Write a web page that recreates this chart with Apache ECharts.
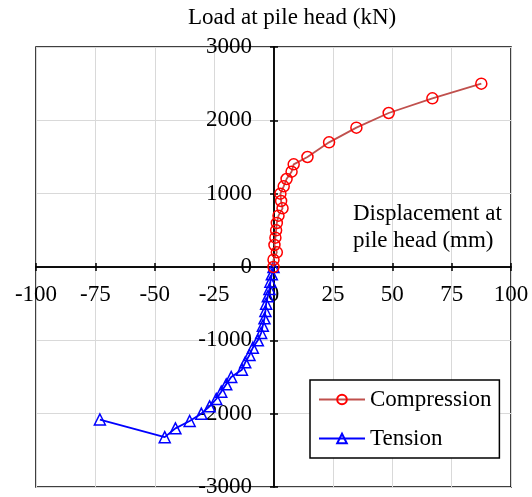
<!DOCTYPE html>
<html>
<head>
<meta charset="utf-8">
<script src="https://cdn.jsdelivr.net/npm/echarts@6/dist/echarts.min.js"></script>
<style>
  html, body { margin: 0; padding: 0; background: #fff; }
  #chart { width: 532px; height: 497px; }
</style>
</head>
<body>
<div id="chart"></div>
<script>
// Pile head load test: displacement (mm) vs load (kN)
const compDisp = [0, 0, 1.4, 0.4, 0.8, 1.1, 1.4, 2.1, 3.8, 3.2, 2.9, 4.3, 5.5, 7.6, 8.5, 14.3, 23.4, 34.9, 48.5, 66.9, 87.5];
const compLoad = [0, 100, 200, 300, 400, 500, 600, 700, 800, 900, 1000, 1100, 1200, 1300, 1400, 1500, 1700, 1900, 2100, 2300, 2500];

const tenDisp = [0, -0.7, -1.3, -1.7, -2.4, -3.1, -3.4, -3.8, -4.5, -5.2, -6.6, -8.7, -10.1, -11.9, -13.3, -17.8, -19.9, -22.0, -24.1, -26.9, -30.4, -35.3, -41.3, -45.8, -73.1];
const tenLoad = [0, -100, -200, -300, -400, -500, -600, -700, -800, -900, -1000, -1100, -1200, -1300, -1400, -1500, -1600, -1700, -1800, -1900, -2000, -2100, -2200, -2320, -2080];

const seriesNames = ['Compression', 'Tension'];
const xTitle = 'Displacement at\npile head (mm)';
const yTitle = 'Load at pile head (kN)';

const FONT = '"Liberation Serif", serif';

// Plot box (px) — the axes cross at the origin, in the middle of the box
const G = { left: 36, right: 21, top: 47, bottom: 10, width: 476, height: 440 };
const X_MIN = -100, X_MAX = 100, Y_MIN = -3000, Y_MAX = 3000;
// distance from the box edge to the zero line
const xAxisShift = -G.height * (0 - Y_MIN) / (Y_MAX - Y_MIN);
const yAxisShift = -G.width * (0 - X_MIN) / (X_MAX - X_MIN);

const zip = (xs, ys) => xs.map((x, i) => [x, ys[i]]);
const plain = v => String(v);

function xAxisDef(inside, primary) {
  return {
    type: 'value', min: X_MIN, max: X_MAX, interval: 25,
    position: 'bottom', offset: xAxisShift,
    axisLine: { show: true, onZero: false, lineStyle: { color: '#000', width: 1.5 } },
    axisTick: { show: true, inside: inside, length: 4, lineStyle: { color: '#000', width: 1.5 } },
    axisLabel: { show: primary, formatter: plain, color: '#000', fontFamily: FONT, fontSize: 23, margin: 16 },
    splitLine: { show: primary, lineStyle: { color: '#d9d9d9', width: 1 } }
  };
}
function yAxisDef(inside, primary) {
  return {
    type: 'value', min: Y_MIN, max: Y_MAX, interval: 1000,
    position: 'left', offset: yAxisShift,
    axisLine: { show: true, onZero: false, lineStyle: { color: '#000', width: 1.5 } },
    axisTick: { show: true, inside: inside, length: 4, lineStyle: { color: '#000', width: 1.5 } },
    axisLabel: { show: primary, formatter: plain, color: '#000', fontFamily: FONT, fontSize: 23, margin: 22 },
    splitLine: { show: primary, lineStyle: { color: '#d9d9d9', width: 1 } }
  };
}

const chart = echarts.init(document.getElementById('chart'), null, { renderer: 'canvas' });
chart.setOption({
  animation: false,
  backgroundColor: '#fff',
  title: [
    { text: yTitle, left: 188, top: 5, padding: 0,
      textStyle: { fontFamily: FONT, fontSize: 23, fontWeight: 'normal', color: '#000', lineHeight: 26 } },
    { text: xTitle, left: 353, top: 200, padding: 0,
      textStyle: { fontFamily: FONT, fontSize: 23, fontWeight: 'normal', color: '#000', lineHeight: 27 } }
  ],
  grid: {
    left: G.left, right: G.right, top: G.top, bottom: G.bottom,
    show: true, borderColor: '#000', borderWidth: 1.5, backgroundColor: 'transparent',
    outerBoundsMode: 'none'
  },
  xAxis: [xAxisDef(false, true), xAxisDef(true, false)],
  yAxis: [yAxisDef(false, true), yAxisDef(true, false)],
  legend: {
    data: seriesNames,
    orient: 'vertical',
    left: 310, top: 380,
    itemWidth: 46, itemHeight: 12, itemGap: 16,
    padding: [8, 8],
    backgroundColor: '#fff', borderColor: '#000', borderWidth: 1.5,
    textStyle: { fontFamily: FONT, fontSize: 23, color: '#000' }
  },
  series: [
    {
      name: seriesNames[0], type: 'line', xAxisIndex: 0, yAxisIndex: 0,
      data: zip(compDisp, compLoad),
      symbol: 'circle', symbolSize: 11,
      lineStyle: { color: '#c0504d', width: 1.8 },
      itemStyle: { color: 'rgba(255,255,255,0)', borderColor: '#ff0000', borderWidth: 1.5 },
      z: 3
    },
    {
      name: seriesNames[1], type: 'line', xAxisIndex: 0, yAxisIndex: 0,
      data: zip(tenDisp, tenLoad),
      symbol: 'triangle', symbolSize: 11,
      lineStyle: { color: '#0000ff', width: 1.8 },
      itemStyle: { color: 'rgba(255,255,255,0)', borderColor: '#0000ff', borderWidth: 1.5 },
      z: 2
    }
  ]
});
</script>
</body>
</html>
